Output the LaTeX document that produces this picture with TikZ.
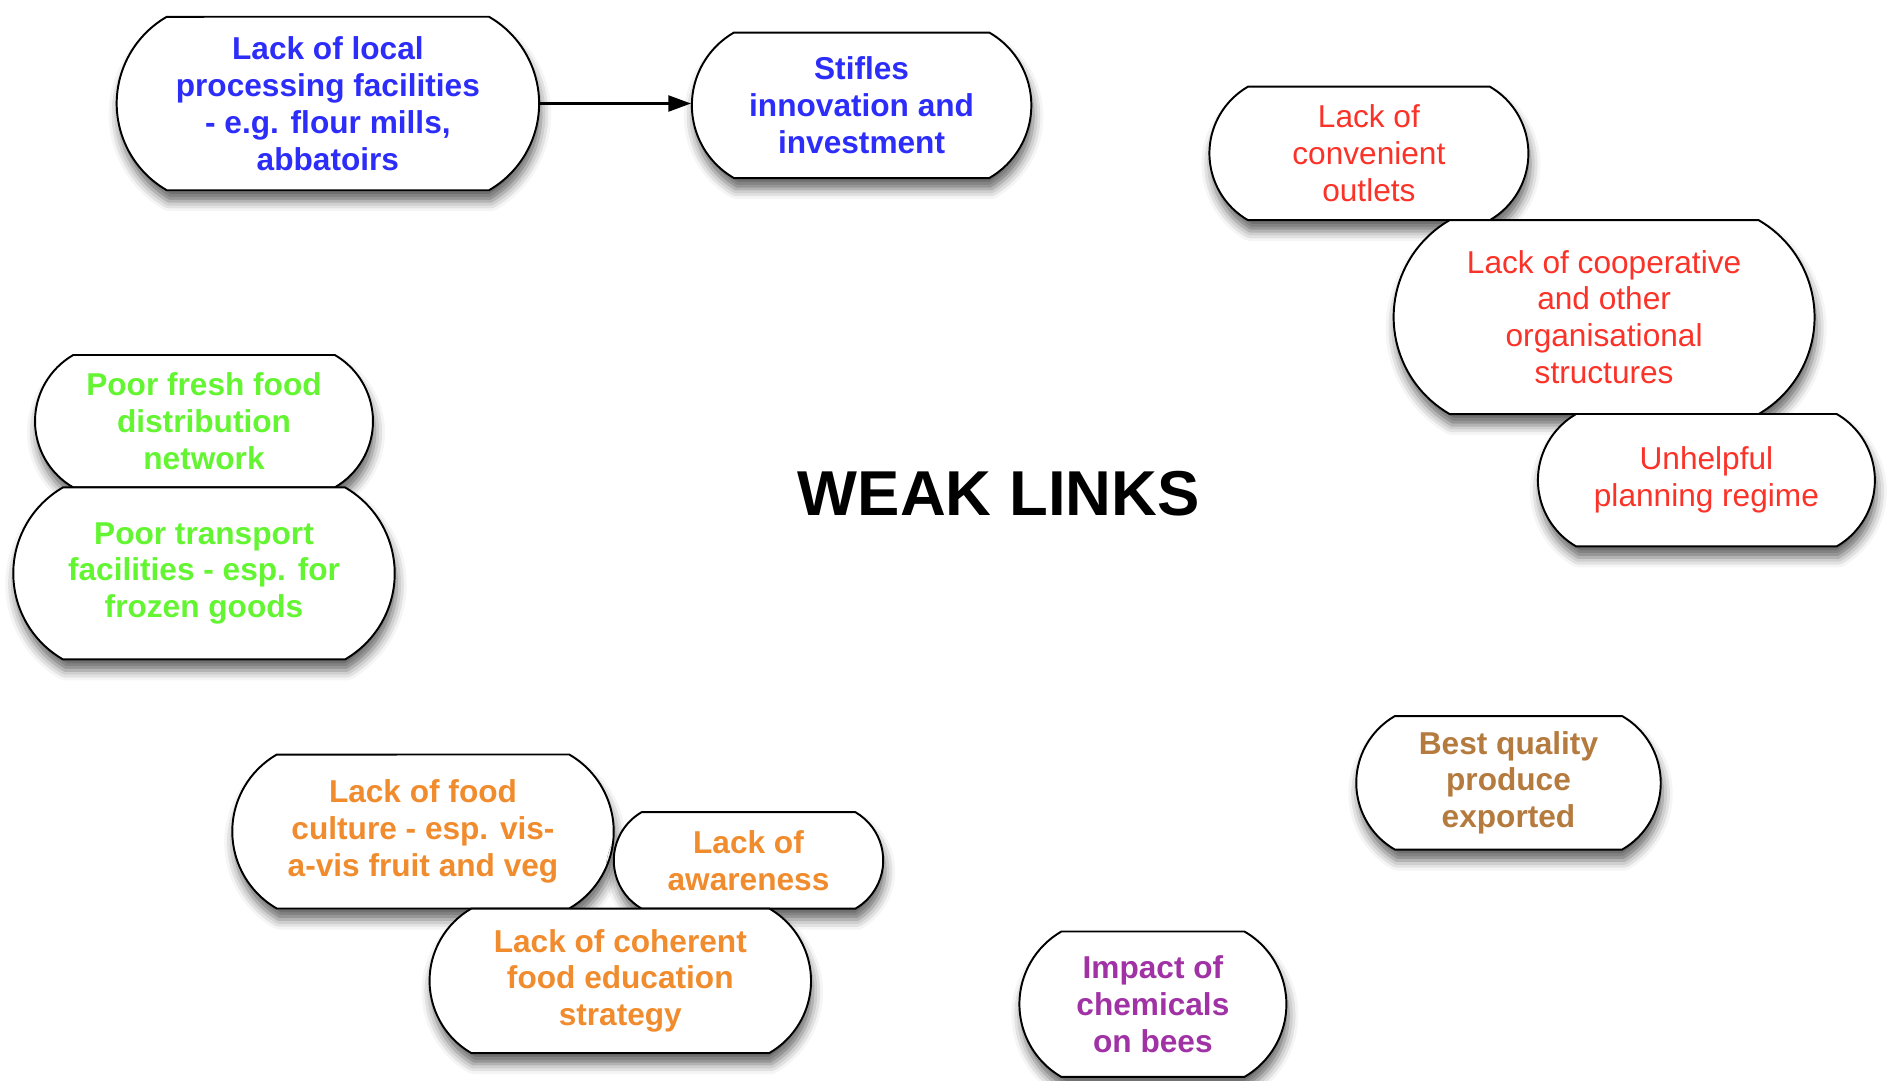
\documentclass[tikz,border=0pt]{standalone}
\usepackage{fontspec}
\setmainfont{Liberation Sans}
\usetikzlibrary{shapes.misc,arrows.meta,shadows.blur}
\definecolor{cblue}{RGB}{45,45,250}
\definecolor{cred}{RGB}{250,50,40}
\definecolor{cgreen}{RGB}{100,245,50}
\definecolor{corange}{RGB}{240,140,45}
\definecolor{cbrown}{RGB}{180,122,62}
\definecolor{cpurple}{RGB}{160,50,165}
\begin{document}
\begin{tikzpicture}[x=0.02cm,y=-0.02cm,
  pill/.style={shape=rounded rectangle, rounded rectangle arc length=120,
    draw=black, line width=1.1pt, fill=white, inner sep=0pt, align=center,
    font=\fontsize{18}{21}\selectfont,
    blur shadow={shadow xshift=0.04cm, shadow yshift=-0.22cm, shadow blur radius=0.2cm, shadow opacity=60}},
  boldtext/.style={font=\bfseries\fontsize{18}{21}\selectfont},
  link/.style={line width=1.2pt, -{Triangle[length=0.45cm,width=0.32cm]}}
]
\useasboundingbox (0,0) rectangle (1887,1080);

% top left pair
\node[pill, boldtext, text=cblue, minimum width=8.45cm, minimum height=3.47cm] (b1) at (327.9,103.5)
  {Lack of local\\processing facilities\\- e.g. flour mills,\\abbatoirs};
\node[pill, boldtext, text=cblue, minimum width=6.79cm, minimum height=2.91cm] (b2) at (861.6,105.3)
  {Stifles\\innovation and\\investment};
\draw[link] (b1.east) -- (b1.east -| b2.west);

% top right (red)
\node[pill, text=cred, minimum width=6.38cm, minimum height=2.67cm] (b3) at (1368.9,153.4)
  {Lack of\\convenient\\outlets};
\node[pill, text=cred, minimum width=8.42cm, minimum height=3.88cm] (b4) at (1604.1,317.1)
  {Lack of cooperative\\and other\\organisational\\structures};
\node[pill, text=cred, minimum width=6.74cm, minimum height=2.65cm] (b5) at (1706.4,480.2)
  {Unhelpful\\planning regime};

% left (green)
\node[pill, boldtext, text=cgreen, minimum width=6.76cm, minimum height=2.65cm] (b6) at (204,421.2)
  {Poor fresh food\\distribution\\network};
\node[pill, boldtext, text=cgreen, minimum width=7.63cm, minimum height=3.44cm] (b7) at (204,573.4)
  {Poor transport\\facilities - esp. for\\frozen goods};

% title
\node[font=\bfseries\fontsize{36.1}{40}\selectfont] (title) at (998.8,493.4) {WEAK LINKS};

% bottom left (orange)
\node[pill, boldtext, text=corange, minimum width=7.63cm, minimum height=3.08cm] (b8) at (423,831.5)
  {Lack of food\\culture - esp. vis-\\a-vis fruit and veg};
\node[pill, boldtext, text=corange, minimum width=5.39cm, minimum height=1.93cm] (b9) at (748.5,860.4)
  {Lack of\\awareness};
\node[pill, boldtext, text=corange, minimum width=7.63cm, minimum height=2.89cm] (b10) at (620.3,980.8)
  {Lack of coherent\\food education\\strategy};

% bottom right
\node[pill, boldtext, text=cbrown, minimum width=6.09cm, minimum height=2.67cm] (b11) at (1508.5,782.8)
  {Best quality\\produce\\exported};
\node[pill, boldtext, text=cpurple, minimum width=5.34cm, minimum height=2.91cm] (b12) at (1152.9,1004.2)
  {Impact of\\chemicals\\on bees};
\end{tikzpicture}
\end{document}
